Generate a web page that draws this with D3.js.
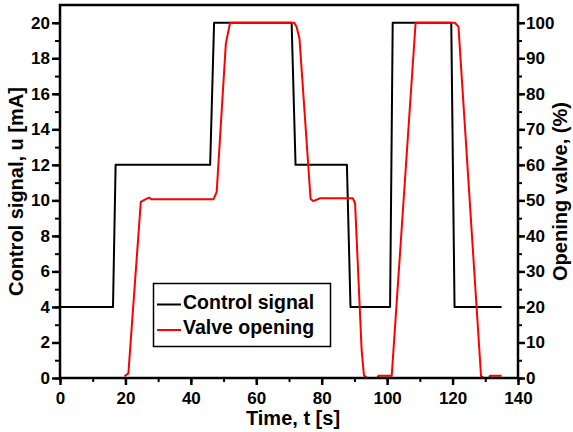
<!DOCTYPE html>
<html>
<head>
<meta charset="utf-8">
<script src="https://cdn.jsdelivr.net/npm/d3@7"></script>
<style>
  html, body { margin: 0; padding: 0; background: #fff; }
  svg { display: block; }
  text { font-family: "Liberation Sans", Arial, sans-serif; font-weight: bold; fill: #000; }
</style>
</head>
<body>
<svg id="chart" width="573" height="432"></svg>
<script>
// ---- data ----
const controlTime   = [0, 16.2, 17.0, 45.9, 47.1, 70.8, 72.0, 87.7, 88.8, 100.9, 101.7, 119.6, 120.6, 135];
const controlSignal = [4, 4, 12, 12, 20, 20, 12, 12, 4, 4, 20, 20, 4, 4];           // mA

const valveTime    = [19.7, 20.9, 24.7, 25.5, 27.2, 28.0, 46.9, 47.9, 50.7, 52.0, 71.6, 72.3, 73.2, 76.6, 77.4, 79.5, 89.5, 90.2, 92.2, 92.9, 93.9, 97.0, 97.3, 101.4, 108.7, 120.7, 121.8, 128.7, 129.5, 131.2, 131.4, 135.0];
const valveOpening = [0.5, 1.3, 49.6, 50.0, 50.8, 50.3, 50.3, 52.4, 94.2, 100, 100, 98.9, 95.6, 50.4, 49.8, 50.6, 50.6, 49.2, 7.9, 0.8, 0, 0, 0.6, 0.6, 100, 100, 98.9, 0.6, 0, 0, 0.6, 0.6]; // %

const xTicks      = [0, 20, 40, 60, 80, 100, 120, 140];
const yLeftTicks  = [0, 2, 4, 6, 8, 10, 12, 14, 16, 18, 20];
const yRightTicks = [0, 10, 20, 30, 40, 50, 60, 70, 80, 90, 100];

const xLabel = "Time, t [s]";
const yLeftLabel = "Control signal, u [mA]";
const yRightLabel = "Opening valve, (%)";
const legendLabels = ["Control signal", "Valve opening"];
const seriesColors = ["#000000", "#ff0000"];

// ---- layout ----
const svg = d3.select("#chart");
const pLeft = 60, pRight = 518, pTop = 5, pBottom = 378;

const x = d3.scaleLinear().domain([0, 140]).range([pLeft, pRight]);
const yL = d3.scaleLinear().domain([0, 21]).range([pBottom, pTop]);
const yR = d3.scaleLinear().domain([0, 105]).range([pBottom, pTop]);

// ---- series ----
const ctrlData = controlTime.map((t, i) => [t, controlSignal[i]]);
const valveData = valveTime.map((t, i) => [t, valveOpening[i]]);

svg.append("path")
  .datum(ctrlData)
  .attr("fill", "none")
  .attr("stroke", seriesColors[0])
  .attr("stroke-width", 2)
  .attr("stroke-linejoin", "round")
  .attr("d", d3.line().x(d => x(d[0])).y(d => yL(d[1])));

svg.append("path")
  .datum(valveData)
  .attr("fill", "none")
  .attr("stroke", seriesColors[1])
  .attr("stroke-width", 2)
  .attr("stroke-linejoin", "round")
  .attr("d", d3.line().x(d => x(d[0])).y(d => yR(d[1])));

// ---- axes ----
function styleAxis(g, width) {
  g.selectAll(".domain").remove();
  g.selectAll(".tick line").attr("stroke", "#000").attr("stroke-width", width);
  g.selectAll(".tick text").attr("fill", "#000").style("font-size", "17px").style("font-family", "'Liberation Sans', Arial, sans-serif").style("font-weight", "bold");
}

// minor ticks
const xMinor = d3.range(0, 141, 10);
const yLMinor = d3.range(0, 21, 1);
const yRMinor = d3.range(0, 101, 5);

svg.append("g").attr("transform", `translate(0,${pBottom})`)
  .call(d3.axisBottom(x).tickValues(xMinor).tickSize(4).tickFormat(""))
  .call(g => styleAxis(g, 2));
svg.append("g").attr("transform", `translate(${pLeft},0)`)
  .call(d3.axisLeft(yL).tickValues(yLMinor).tickSize(5).tickFormat(""))
  .call(g => styleAxis(g, 2));
svg.append("g").attr("transform", `translate(${pRight},0)`)
  .call(d3.axisRight(yR).tickValues(yRMinor).tickSize(4).tickFormat(""))
  .call(g => styleAxis(g, 2));

// major ticks
svg.append("g").attr("transform", `translate(0,${pBottom})`)
  .call(d3.axisBottom(x).tickValues(xTicks).tickSize(7).tickPadding(7).tickFormat(d3.format("d")))
  .call(g => styleAxis(g, 2.5));
svg.append("g").attr("transform", `translate(${pLeft},0)`)
  .call(d3.axisLeft(yL).tickValues(yLeftTicks).tickSize(8).tickPadding(2).tickFormat(d3.format("d")))
  .call(g => styleAxis(g, 2.5));
svg.append("g").attr("transform", `translate(${pRight},0)`)
  .call(d3.axisRight(yR).tickValues(yRightTicks).tickSize(7).tickPadding(1).tickFormat(d3.format("d")))
  .call(g => styleAxis(g, 2.5));

// frame
svg.append("rect")
  .attr("x", pLeft).attr("y", pTop)
  .attr("width", pRight - pLeft).attr("height", pBottom - pTop)
  .attr("fill", "none").attr("stroke", "#000").attr("stroke-width", 2.5);

// ---- axis titles ----
svg.append("text")
  .attr("x", 293).attr("y", 425)
  .attr("text-anchor", "middle")
  .style("font-size", "20px")
  .text(xLabel);

svg.append("text")
  .attr("transform", `translate(23,${(pTop + pBottom) / 2}) rotate(-90)`)
  .attr("text-anchor", "middle")
  .style("font-size", "20px")
  .text(yLeftLabel);

svg.append("text")
  .attr("transform", `translate(567,${(pTop + pBottom) / 2}) rotate(-90)`)
  .attr("text-anchor", "middle")
  .style("font-size", "20px")
  .text(yRightLabel);

// ---- legend ----
const lg = svg.append("g");
lg.append("rect")
  .attr("x", 153.5).attr("y", 283.5)
  .attr("width", 177).attr("height", 63)
  .attr("fill", "#fff").attr("stroke", "#000").attr("stroke-width", 1.5);
const rowsY = [304.5, 330];
legendLabels.forEach((lab, i) => {
  lg.append("line")
    .attr("x1", 157).attr("x2", 181)
    .attr("y1", rowsY[i]).attr("y2", rowsY[i])
    .attr("stroke", seriesColors[i]).attr("stroke-width", 2);
  lg.append("text")
    .attr("x", 183).attr("y", rowsY[i] + (i === 0 ? 4 : 3.5))
    .style("font-size", "19.5px")
    .text(lab);
});
</script>
</body>
</html>
